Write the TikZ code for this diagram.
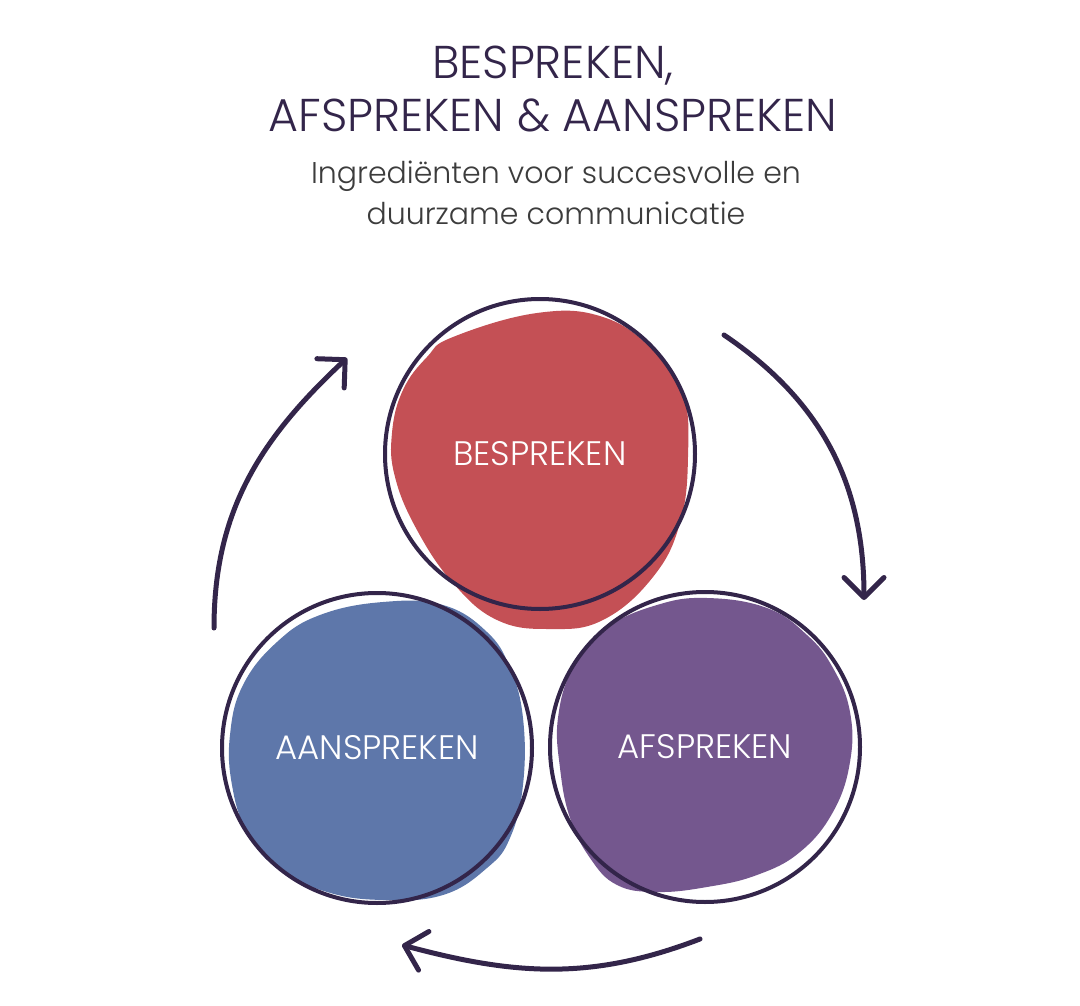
\documentclass[tikz,border=0pt]{standalone}
\usepackage{fontspec}
\setmainfont{Poppins Light}
\definecolor{rood}{HTML}{C45055}
\definecolor{blauw}{HTML}{5E77AA}
\definecolor{paars}{HTML}{74578E}
\definecolor{donker}{HTML}{33254A}
\definecolor{grijs}{HTML}{3C3C3C}
\usetikzlibrary{arrows.meta, positioning}

\begin{document}
\begin{tikzpicture}[x=1pt, y=1pt,
        every node/.style={align=center},
        ring/.style={circle, draw=donker, line width=4pt, inner sep=0pt, minimum size=310pt, text=white, font=\fontsize{34}{34}\selectfont},
        blob/.style={smooth cycle, tension=0.7},
        pijl/.style={-{Straight Barb[length=20pt, width=40pt, round]}, line width=5pt, line cap=round, donker}
    ]
        \useasboundingbox (0,0) rectangle (1080,-1006);

        % Titel en ondertitel
        \node[text=donker, font=\fontsize{46}{53}\selectfont] (titel) at (553,-89) {BESPREKEN,\\AFSPREKEN \& AANSPREKEN};
        \node[text=grijs, font=\fontsize{30}{41}\selectfont] (sub) at (556,-193) {Ingrediënten voor succesvolle en\\duurzame communicatie};

        % Gekleurde vlekken
        \fill[rood] plot[blob] coordinates {(453,-337) (537,-313) (603,-317) (653,-350) (683,-393) (688,-457) (680,-523) (653,-577) (603,-620) (550,-629) (497,-620) (453,-583) (417,-530) (395,-477) (392,-433) (403,-390) (427,-357)};
        \fill[blauw] plot[blob] coordinates {(383,-602) (443,-605) (487,-632) (510,-668) (523,-718) (523,-785) (510,-838) (487,-868) (443,-895) (383,-900) (327,-892) (277,-868) (247,-832) (232,-785) (230,-735) (243,-685) (277,-642) (320,-615)};
        \fill[paars] plot[blob] coordinates {(707,-598) (657,-605) (607,-628) (573,-668) (558,-718) (560,-768) (570,-818) (590,-858) (617,-885) (657,-892) (707,-887) (757,-875) (800,-852) (833,-812) (850,-762) (850,-712) (833,-668) (807,-635) (767,-608)};

        % Cirkels
        \node[ring] (be) at (540,-454) {BESPREKEN};
        \node[ring] (aa) at (377,-748) {AANSPREKEN};
        \node[ring] (af) at (705,-747) {AFSPREKEN};

        % Pijlen rond de cirkels
        \coordinate (p1) at (724,-335);
        \coordinate (p2) at (864,-600);
        \coordinate (p3) at (700,-939);
        \coordinate (p4) at (402,-945);
        \coordinate (p5) at (214,-628);
        \coordinate (p6) at (347,-358);
        \draw[pijl] (p1) to[out=-34, in=90] (p2);
        \draw[pijl] (p3) to[out=201, in=-15] (p4);
        \draw[pijl] (p5) to[out=90, in=223] (p6);
    \end{tikzpicture}
\end{document}
